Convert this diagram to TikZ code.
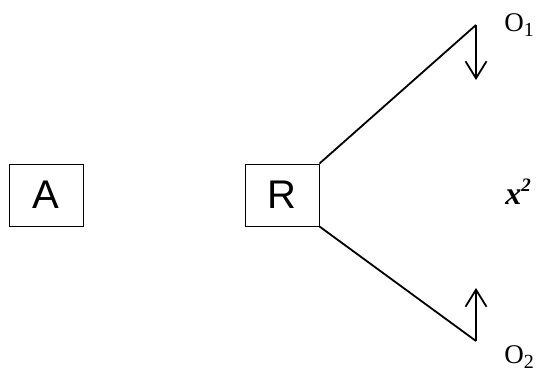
\documentclass[tikz,border=0pt]{standalone}
\usepackage{fontspec}
\setsansfont{Liberation Sans}
\newfontfamily\outfont{Liberation Serif}
\usepackage{tikz}
\usetikzlibrary{arrows.meta}
\tikzstyle{block}=[rectangle,draw=black,line width=1pt,minimum width=74pt,minimum height=62pt,inner sep=0pt,font=\sffamily\fontsize{40}{40}\selectfont]
\tikzstyle{outtext}=[inner sep=0pt,font=\outfont\fontsize{27}{28}\selectfont]
\tikzstyle{branch}=[line width=1.8pt]
\newcommand{\subidx}[1]{\raisebox{-5pt}{\fontsize{20}{20}\selectfont #1}}
\newcommand{\supidx}[1]{\raisebox{13pt}{\fontsize{19}{19}\selectfont\bfseries #1}}

\begin{document}
\begin{tikzpicture}[x=1pt,y=-1pt,>={Straight Barb[length=17pt,width=21pt,line width=1.8pt]}]
  \useasboundingbox (0,0) rectangle (536,372);
  \node (A) [block] at (46,195) {A};
  \node (R) [block] at (282,195) {R};
  \coordinate (T1) at (476,25);
  \coordinate (T2) at (476,341);
  \coordinate (H1) at (476,80);
  \coordinate (H2) at (476,288);
  \node (O1) [outtext] at (519,25) {O\subidx{1}};
  \node (O2) [outtext] at (519,357) {O\subidx{2}};
  \node (X) [outtext,font=\outfont\fontsize{32}{32}\selectfont] at (518,192) {\bfseries\itshape x\supidx{2}};
  \draw[branch] (R.north east) -- (T1);
  \draw[branch] (R.south east) -- (T2);
  \draw[branch,->] (T1) -- (H1);
  \draw[branch,->] (T2) -- (H2);
\end{tikzpicture}
\end{document}
